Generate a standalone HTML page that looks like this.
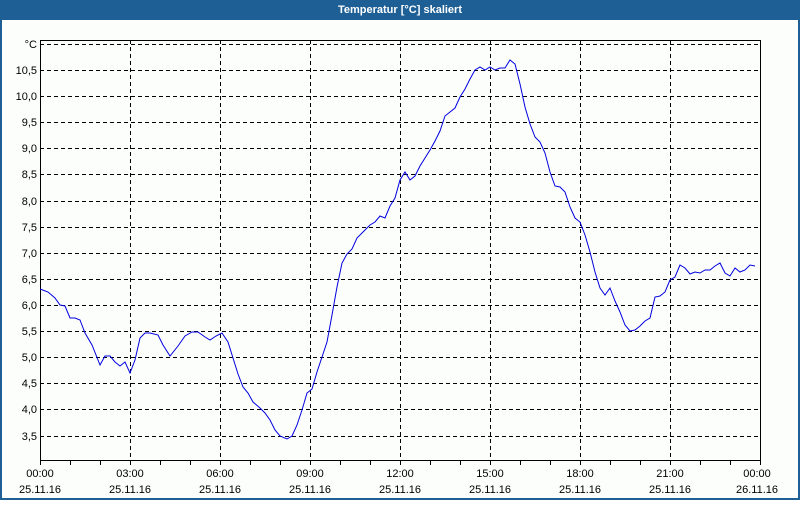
<!DOCTYPE html>
<html><head><style>
body{margin:0;width:800px;height:500px;overflow:hidden;background:#fff;font-family:"Liberation Sans",sans-serif}
</style></head><body>
<svg width="800" height="500" xmlns="http://www.w3.org/2000/svg" font-family="Liberation Sans, sans-serif" font-size="11">
<rect x="0" y="0" width="800" height="500" fill="#1e5f96"/>
<rect x="2" y="20" width="796" height="478" fill="#fcfefc"/>
<text x="400" y="13" fill="#fff" font-weight="bold" text-anchor="middle" font-size="11">Temperatur [°C] skaliert</text>
<g stroke="#000" stroke-dasharray="4,3" stroke-width="1">
<line x1="40" y1="44.5" x2="760" y2="44.5"/>
<line x1="40" y1="70.5" x2="760" y2="70.5"/>
<line x1="40" y1="96.5" x2="760" y2="96.5"/>
<line x1="40" y1="122.5" x2="760" y2="122.5"/>
<line x1="40" y1="148.5" x2="760" y2="148.5"/>
<line x1="40" y1="174.5" x2="760" y2="174.5"/>
<line x1="40" y1="201.5" x2="760" y2="201.5"/>
<line x1="40" y1="227.5" x2="760" y2="227.5"/>
<line x1="40" y1="253.5" x2="760" y2="253.5"/>
<line x1="40" y1="279.5" x2="760" y2="279.5"/>
<line x1="40" y1="305.5" x2="760" y2="305.5"/>
<line x1="40" y1="331.5" x2="760" y2="331.5"/>
<line x1="40" y1="357.5" x2="760" y2="357.5"/>
<line x1="40" y1="383.5" x2="760" y2="383.5"/>
<line x1="40" y1="409.5" x2="760" y2="409.5"/>
<line x1="40" y1="436.5" x2="760" y2="436.5"/>
<line x1="130.5" y1="40" x2="130.5" y2="460"/>
<line x1="220.5" y1="40" x2="220.5" y2="460"/>
<line x1="310.5" y1="40" x2="310.5" y2="460"/>
<line x1="400.5" y1="40" x2="400.5" y2="460"/>
<line x1="490.5" y1="40" x2="490.5" y2="460"/>
<line x1="580.5" y1="40" x2="580.5" y2="460"/>
<line x1="670.5" y1="40" x2="670.5" y2="460"/>
</g>
<g stroke="#000" stroke-width="1" fill="none">
<path d="M40.5 40.5H760.5V460.5H40.5Z"/>
<path d="M70.5 460v5M100.5 460v5M130.5 460v5M160.5 460v5M190.5 460v5M220.5 460v5M250.5 460v5M280.5 460v5M310.5 460v5M340.5 460v5M370.5 460v5M400.5 460v5M430.5 460v5M460.5 460v5M490.5 460v5M520.5 460v5M550.5 460v5M580.5 460v5M610.5 460v5M640.5 460v5M670.5 460v5M700.5 460v5M730.5 460v5M40.5 460v5M760.5 460v5"/>
</g>
<g text-anchor="end" fill="#000">
<text x="37" y="48">°C</text>
<text x="37" y="74">10,5</text><text x="37" y="100">10,0</text><text x="37" y="126">9,5</text>
<text x="37" y="152">9,0</text><text x="37" y="178">8,5</text><text x="37" y="205">8,0</text>
<text x="37" y="231">7,5</text><text x="37" y="257">7,0</text><text x="37" y="283">6,5</text>
<text x="37" y="309">6,0</text><text x="37" y="335">5,5</text><text x="37" y="361">5,0</text>
<text x="37" y="387">4,5</text><text x="37" y="413">4,0</text><text x="37" y="440">3,5</text>
</g>
<g text-anchor="middle" fill="#000">
<text x="40" y="477">00:00</text><text x="40" y="493">25.11.16</text>
<text x="130" y="477">03:00</text><text x="130" y="493">25.11.16</text>
<text x="220" y="477">06:00</text><text x="220" y="493">25.11.16</text>
<text x="310" y="477">09:00</text><text x="310" y="493">25.11.16</text>
<text x="400" y="477">12:00</text><text x="400" y="493">25.11.16</text>
<text x="490" y="477">15:00</text><text x="490" y="493">25.11.16</text>
<text x="580" y="477">18:00</text><text x="580" y="493">25.11.16</text>
<text x="670" y="477">21:00</text><text x="670" y="493">25.11.16</text>
<text x="757" y="477">00:00</text><text x="757" y="493">26.11.16</text>
</g>
<polyline fill="none" stroke="#0000e0" stroke-width="1" points="40,289 48,292 55,298 60,305 65,306 70,318 75,318 80,320 85,333 92,345 100,365 105,356 110,356 115,362 120,366 125,362 130,373 135,360 140,338 145,333 150,333 158,335 163,345 170,356 178,346 185,336 192,332 198,332 205,337 210,340 216,336 222,333 228,342 233,358 238,374 243,387 248,393 253,402 260,408 265,413 270,420 275,430 280,436 287,439 292,436 297,425 302,410 307,393 312,389 317,372 322,357 327,342 332,315 337,287 342,263 347,254 352,249 357,238 363,232 370,225 375,222 380,216 385,218 390,206 395,198 400,180 405,172 410,180 415,176 420,166 425,158 430,150 435,141 440,131 445,116 450,112 455,108 460,97 465,89 470,79 475,70 480,67 485,70 490,67 495,70 500,68 505,68 510,60 515,64 520,84 525,107 530,124 535,137 540,142 545,153 550,172 555,186 560,187 565,192 570,207 575,218 580,222 585,235 590,252 595,272 600,288 605,295 610,288 615,301 620,312 625,325 630,331 635,330 640,326 645,321 650,318 655,297 660,296 665,292 670,280 675,277 680,265 685,268 690,274 695,272 700,273 705,270 710,270 715,266 720,263 725,273 730,276 735,268 740,272 745,270 750,265 755,266"/>
</svg>
</body></html>
